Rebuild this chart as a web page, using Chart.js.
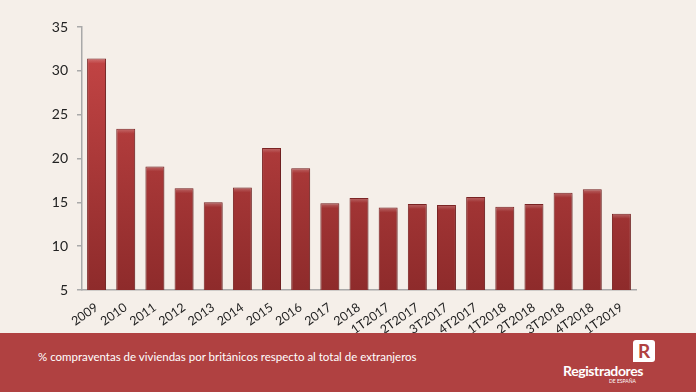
<!doctype html>
<html>
<head>
    <meta charset="utf-8">
    <title>Compraventas por británicos</title>
    <script src="https://cdn.jsdelivr.net/npm/chart.js"></script>
    <style>
        body { margin: 0; width: 696px; height: 392px; background: #f5efe9; overflow: hidden; position: relative; }
        #wrap { position: absolute; left: 0; top: 0; width: 696px; height: 333px; }
        #banda { position: absolute; left: 0; top: 333px; width: 696px; height: 59px; background: #b04141; }
        #pie { position: absolute; left: 38px; top: 17px; color: #fff; font: 11.5px "Lato", sans-serif; white-space: nowrap; }
        #logo { position: absolute; left: 563px; top: 29px; color: #fff; font: bold 14px "Lato", sans-serif; letter-spacing: -0.4px; }
        #logo small { position: absolute; left: 46px; top: 16px; font: 5px "Lato", sans-serif; white-space: nowrap; letter-spacing: 0; }
        #icono { position: absolute; left: 633px; top: 7px; width: 22px; height: 22px; background: #fff; border-radius: 3px 3px 3px 0;
                 color: #b04141; font: bold 19px "Lato", sans-serif; text-align: center; line-height: 22px; }
    </style>
</head>
<body>
    <div id="wrap"><canvas id="grafico" width="696" height="333"></canvas></div>
    <div id="banda">
        <div id="pie">% compraventas de viviendas por británicos respecto al total de extranjeros</div>
        <div id="icono">R</div>
        <div id="logo">Registradores<small>DE ESPAÑA</small></div>
    </div>

    <script>
        // Datos
        var periodos = ['2009', '2010', '2011', '2012', '2013', '2014', '2015', '2016', '2017', '2018',
                        '1T2017', '2T2017', '3T2017', '4T2017', '1T2018', '2T2018', '3T2018', '4T2018', '1T2019'];
        var porcentajes = [31.4, 23.4, 19.1, 16.6, 15.0, 16.7, 21.2, 18.9, 14.9, 15.5,
                           14.4, 14.8, 14.7, 15.6, 14.5, 14.8, 16.1, 16.5, 13.7];
        var ejeY = { min: 5, max: 35, paso: 5 };

        // Degradado rojo de las barras
        function colorBarra(ctx) {
            var area = ctx.chart.chartArea;
            if (!area) return '#b83c3c';
            var g = ctx.chart.ctx.createLinearGradient(0, area.top, 0, area.bottom);
            g.addColorStop(0, '#c84747');
            g.addColorStop(1, '#8e2b2b');
            return g;
        }

        // Sombra suave y brillo superior para el efecto 3D
        var efectoBarras = {
            id: 'efectoBarras',
            beforeDatasetsDraw: function (chart) {
                var c = chart.ctx;
                c.save();
                c.shadowColor = 'rgba(0,0,0,0.25)';
                c.shadowBlur = 3;
                c.shadowOffsetX = 1;
                c.shadowOffsetY = 1;
            },
            afterDatasetsDraw: function (chart) {
                var c = chart.ctx;
                c.restore();
                c.save();
                chart.getDatasetMeta(0).data.forEach(function (bar) {
                    var x0 = bar.x - bar.width / 2, w = bar.width;
                    var g = c.createLinearGradient(0, bar.y, 0, bar.y + 5);
                    g.addColorStop(0, 'rgba(255,255,255,0.25)');
                    g.addColorStop(1, 'rgba(255,255,255,0)');
                    c.fillStyle = g;
                    c.fillRect(x0 + 1, bar.y + 1, w - 2, 5);
                });
                c.restore();
            }
        };

        var grafico = new Chart(document.getElementById('grafico').getContext('2d'), {
            type: 'bar',
            data: {
                labels: periodos,
                datasets: [{
                    data: porcentajes,
                    backgroundColor: colorBarra,
                    borderColor: '#7d2424',
                    borderWidth: 1,
                    categoryPercentage: 1,
                    barPercentage: 0.65
                }]
            },
            options: {
                responsive: false,
                animation: false,
                layout: { padding: { top: 27, right: 60, left: 0, bottom: 0 } },
                plugins: { legend: { display: false }, tooltip: { enabled: false } },
                scales: {
                    x: {
                        grid: { display: false },
                        border: { color: '#a9a9a9', width: 1.5 },
                        ticks: {
                            color: '#222',
                            font: { family: 'Lato', size: 12.5 },
                            maxRotation: 35,
                            minRotation: 35,
                            padding: 2,
                            autoSkip: false
                        },
                        afterFit: function (s) { s.height = 43; }
                    },
                    y: {
                        min: ejeY.min,
                        max: ejeY.max,
                        grid: { drawOnChartArea: false, tickLength: 5, tickColor: '#a9a9a9', lineWidth: 1.5 },
                        border: { color: '#a9a9a9', width: 1.5 },
                        ticks: {
                            stepSize: ejeY.paso,
                            color: '#222',
                            font: { family: 'Lato', size: 14 },
                            padding: 9
                        },
                        afterFit: function (s) { s.width = 82; }
                    }
                }
            },
            plugins: [efectoBarras]
        });
    </script>
</body>
</html>
